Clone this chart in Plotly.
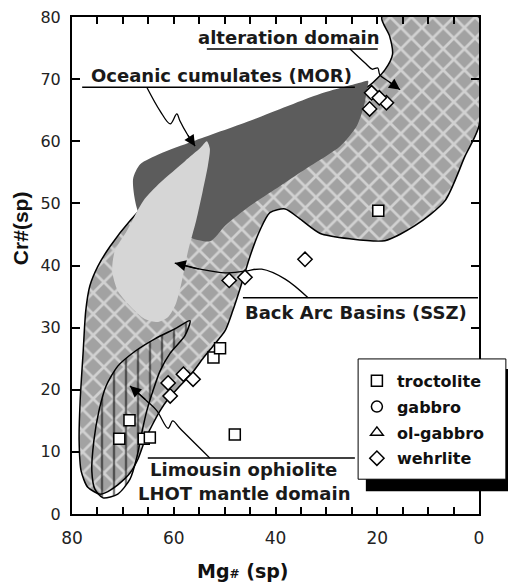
import plotly.graph_objects as go

# ---------------- data ----------------
troct_x = [70.7, 68.7, 65.9, 64.7, 52.2, 50.9, 48.0, 19.8]
troct_y = [12.1, 15.1, 12.1, 12.3, 25.2, 26.7, 12.8, 48.8]
gabbro_x = [None]
gabbro_y = [None]
olgab_x = [None]
olgab_y = [None]
wehr_x = [61.1, 60.7, 58.1, 56.2, 49.1, 46.0, 34.2, 21.1, 21.5, 18.2, 19.6]
wehr_y = [21.1, 19.0, 22.5, 21.7, 37.6, 38.1, 41.0, 67.8, 65.2, 66.2, 67.0]

# domain outlines (Mg#, Cr#)
hatch_x = [74.5, 76.9, 78.2, 78.6, 78.4, 77.8, 77.3, 76.5, 74.9, 72.5, 68.6, 64.7, 58.8, 48.9,
           37.2, 27.3, 21.5, 18.5, 17.0, 17.6, 19.1, 0.0, 0.0, 2.75, 6.7, 12.6, 18.5, 25.4,
           31.3, 35.2, 38.1, 41.1, 43.1, 45.0, 46.8, 48.4, 49.9, 52.3, 54.3, 56.4, 58.8,
           61.1, 62.7, 64.3, 65.7, 67.0, 68.6, 71.0, 73.5, 74.5]
hatch_y = [3.2, 4.3, 6.9, 11.8, 18.2, 26.2, 32.7, 36.7, 39.9, 43.1, 47.2, 50.4, 53.6, 57.6,
           62.5, 66.5, 69.0, 71.5, 74.0, 77.0, 80.0, 80.0, 62.5, 57.6, 50.4, 46.4, 44.0, 44.3,
           45.2, 47.5, 49.1, 48.5, 45.6, 41.5, 36.7, 32.7, 29.5, 27.0, 25.0, 22.7, 20.6,
           18.5, 16.6, 14.2, 11.8, 8.9, 6.6, 4.7, 3.4, 3.2]

mor_x = [68.0, 66.6, 62.7, 56.2, 45.0, 31.3, 23.4, 21.8, 22.0, 22.6, 24.0, 27.3, 33.2, 39.1,
         45.0, 49.9, 52.9, 60.7, 66.6, 68.0]
mor_y = [53.9, 56.3, 58.0, 60.0, 63.3, 67.6, 69.4, 69.7, 68.4, 65.7, 62.5, 59.2, 56.0, 52.8,
         49.6, 46.4, 43.9, 45.6, 48.0, 53.9]

ssz_x = [53.5, 52.9, 53.3, 54.3, 55.6, 57.2, 58.4, 59.6, 61.1, 63.1, 65.7, 68.6, 71.0, 72.1,
         71.6, 69.2, 66.0, 62.7, 57.8, 54.8, 53.5]
ssz_y = [60.0, 58.8, 56.0, 52.0, 47.2, 42.3, 37.5, 33.8, 31.7, 30.9, 31.4, 33.5, 35.9, 39.1,
         42.3, 45.6, 50.4, 53.3, 56.8, 58.9, 60.0]

lhot_x = [73.9, 75.5, 76.1, 75.7, 74.7, 73.3, 71.0, 67.6, 63.7, 59.8, 56.8, 57.8, 60.7, 62.7,
          64.1, 65.3, 66.2, 67.2, 68.6, 71.0, 73.9]
lhot_y = [2.6, 4.0, 6.9, 11.8, 16.6, 20.6, 23.8, 26.2, 28.2, 29.8, 31.1, 28.7, 25.9, 23.0,
          19.8, 16.6, 13.4, 9.3, 5.6, 3.2, 2.6]

# leader lines
alt_lx = [25.4, 22.4, 21.0, 19.9, 19.5, 17.9, 15.5]
alt_ly = [74.9, 72.6, 71.6, 71.8, 70.7, 69.7, 68.3]
mor_lx = [65.3, 62.7, 60.7, 59.4, 58.8, 57.4, 55.8]
mor_ly = [68.7, 64.9, 62.8, 64.4, 63.3, 61.2, 59.2]
ssz_lx = [33.6, 38.1, 42.7, 46.0, 49.9, 54.8, 59.8]
ssz_ly = [34.8, 37.8, 39.4, 39.1, 38.8, 39.4, 40.4]
lim_lx = [52.9, 58.8, 60.2, 61.1, 63.3, 65.3, 68.6]
lim_ly = [9.0, 13.8, 15.0, 13.8, 16.6, 18.2, 20.6]

x_tickvals = [80, 75, 70, 65, 60, 55, 50, 45, 40, 35, 30, 25, 20, 15, 10, 5, 0]
x_ticktext = ["80", "", "", "", "60", "", "", "", "40", "", "", "", "20", "", "", "", "0"]
y_tickvals = [0, 10, 20, 30, 40, 50, 60, 70, 80]

WIDE = "DejaVu Sans, Verdana, sans-serif"
NARROW = "Arial, Liberation Sans, sans-serif"

fig = go.Figure()

fig.add_trace(go.Scatter(x=hatch_x, y=hatch_y, mode="lines", fill="toself",
                         line=dict(color="black", width=1.5, shape="spline", smoothing=0.7),
                         fillcolor="white",
                         fillpattern=dict(shape="x", size=15, solidity=0.33, fgcolor="white",
                                          bgcolor="#a2a2a2"),
                         showlegend=False, hoverinfo="skip"))
fig.add_trace(go.Scatter(x=lhot_x, y=lhot_y, mode="lines", fill="toself",
                         line=dict(color="black", width=1.5, shape="spline", smoothing=0.7),
                         fillpattern=dict(shape="|", size=12, solidity=0.2, fgcolor="black",
                                          bgcolor="rgba(255,255,255,0)"),
                         showlegend=False, hoverinfo="skip"))
fig.add_trace(go.Scatter(x=mor_x, y=mor_y, mode="lines", fill="toself",
                         line=dict(color="rgba(0,0,0,0)", width=0, shape="spline", smoothing=0.7),
                         fillcolor="#5c5c5c", showlegend=False, hoverinfo="skip"))
fig.add_trace(go.Scatter(x=ssz_x, y=ssz_y, mode="lines", fill="toself",
                         line=dict(color="rgba(0,0,0,0)", width=0, shape="spline", smoothing=0.7),
                         fillcolor="#d6d6d6", showlegend=False, hoverinfo="skip"))

for lx, ly in [(alt_lx, alt_ly), (mor_lx, mor_ly), (ssz_lx, ssz_ly), (lim_lx, lim_ly)]:
    fig.add_trace(go.Scatter(x=lx, y=ly, mode="lines",
                             line=dict(color="black", width=1.3, shape="spline"),
                             showlegend=False, hoverinfo="skip"))
    fig.add_annotation(x=lx[-1], y=ly[-1], ax=lx[-2], ay=ly[-2], axref="x", ayref="y",
                       xref="x", yref="y", text="", showarrow=True, arrowhead=2,
                       arrowsize=1.7, arrowwidth=1.3, arrowcolor="black")

mk = dict(size=11, color="white", line=dict(color="black", width=1.5))
fig.add_trace(go.Scatter(x=troct_x, y=troct_y, mode="markers", name="troctolite",
                         legendgroup="a", marker=dict(symbol="square", **mk)))
fig.add_trace(go.Scatter(x=gabbro_x, y=gabbro_y, mode="markers", name="gabbro",
                         legendgroup="b", marker=dict(symbol="circle", **mk)))
fig.add_trace(go.Scatter(x=olgab_x, y=olgab_y, mode="markers", name="ol-gabbro",
                         legendgroup="c", marker=dict(symbol="triangle-up", **mk)))
fig.add_trace(go.Scatter(x=wehr_x, y=wehr_y, mode="markers", name="wehrlite",
                         legendgroup="d", marker=dict(symbol="diamond", **mk)))

# label underlines
for x0, x1, yy in [(53.5, 19.9, 74.85), (78.0, 24.4, 68.7), (46.4, 0.2, 34.8), (65.1, 24.4, 9.0)]:
    fig.add_shape(type="line", x0=x0, x1=x1, y0=yy, y1=yy, xref="x", yref="y",
                  line=dict(color="black", width=1.5))

lab = dict(family=WIDE, size=18, color="#1a1a1a", weight="bold")
for txt, xx, yy in [("alteration domain", 37.3, 76.7),
                    ("Oceanic cumulates (MOR)", 50.6, 70.6),
                    ("Back Arc Basins (SSZ)", 24.2, 32.4),
                    ("Limousin ophiolite", 46.2, 7.2),
                    ("LHOT mantle domain", 46.2, 3.3)]:
    fig.add_annotation(x=xx, y=yy, xref="x", yref="y", text=txt, showarrow=False,
                       font=lab, bgcolor="rgba(0,0,0,0)")

# axis titles
fig.add_annotation(x=0.418, y=-0.115, xref="paper", yref="paper", showarrow=False,
                   xanchor="center", yanchor="middle",
                   text="<b>Mg<span style='font-size:12px'>#</span> (sp)</b>",
                   font=dict(family=WIDE, size=19, color="#111"))
fig.add_annotation(x=-0.128, y=0.575, xref="paper", yref="paper", showarrow=False,
                   xanchor="center", yanchor="middle",
                   text="<b>Cr#(sp)</b>", textangle=-90,
                   font=dict(family=NARROW, size=21, color="#111"))

# legend shadow + box
fig.add_shape(type="rect", xref="paper", yref="paper", x0=0.722, x1=1.12, y0=0.046, y1=0.292,
              fillcolor="black", line=dict(width=0), layer="above")
fig.add_shape(type="rect", xref="paper", yref="paper", x0=0.703, x1=1.066, y0=0.070, y1=0.312,
              fillcolor="white", line=dict(color="black", width=1), layer="above")

fig.update_layout(
    width=516, height=585,
    margin=dict(l=64, r=45, t=9, b=79),
    paper_bgcolor="white", plot_bgcolor="white",
    font=dict(family=WIDE, size=17, color="#222"),
    legend=dict(x=0.700, y=0.302, xanchor="left", yanchor="top",
                bgcolor="rgba(0,0,0,0)", borderwidth=0,
                font=dict(family=WIDE, size=16, color="#111", weight="bold"),
                traceorder="grouped", tracegroupgap=2, itemwidth=30),
    showlegend=True,
)
fig.update_xaxes(range=[80, 0], tickvals=x_tickvals, ticktext=x_ticktext,
                 ticks="inside", ticklen=7, tickwidth=1.5, tickcolor="black",
                 showline=True, linecolor="black", linewidth=2, mirror="ticks",
                 showgrid=False, zeroline=False, automargin=False,
                 ticklabelstandoff=8, ticklabeloverflow="allow",
                 tickfont=dict(family=WIDE, size=17, color="#222"))
fig.update_yaxes(range=[0, 80], tickvals=y_tickvals,
                 ticks="inside", ticklen=8, tickwidth=1.5, tickcolor="black",
                 showline=True, linecolor="black", linewidth=2, mirror="ticks",
                 showgrid=False, zeroline=False, ticklabelstandoff=6, automargin=False,
                 ticklabeloverflow="allow",
                 tickfont=dict(family=WIDE, size=16, color="#222"))

fig.write_html("out.html")
